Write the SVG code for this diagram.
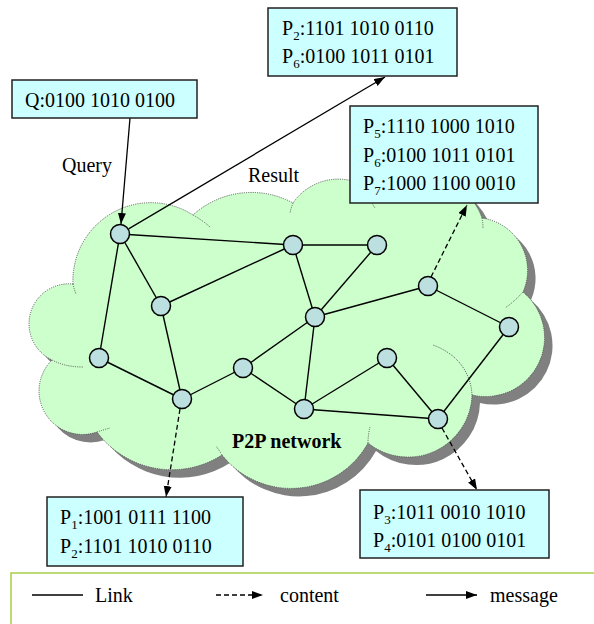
<svg xmlns="http://www.w3.org/2000/svg" width="594" height="624" viewBox="0 0 594 624">
  <style>
    text { font-family: "Liberation Serif", "Times New Roman", serif; font-size: 20px; fill: #000; }
    .sub { font-size: 13px; }
    .box { fill: #CCFFFF; stroke: #222; stroke-width: 1.5; }
    .node { fill: #BCDFE0; stroke: #000; stroke-width: 1.5; }
    .link { stroke: #000; stroke-width: 1.4; fill: none; }
    .msg { stroke: #000; stroke-width: 1.3; fill: none; }
    .content { stroke: #000; stroke-width: 1.3; stroke-dasharray: 5 3; fill: none; }
    .cloud-edge { fill: none; stroke: #555; stroke-width: 1; stroke-dasharray: 1 1.2; }
  </style>
  <defs>
    <marker id="arrow" markerUnits="userSpaceOnUse" markerWidth="12" markerHeight="10" refX="11" refY="4" orient="auto">
      <path d="M0,0 L11,4 L0,8 Z" fill="#000"/>
    </marker>
    <path id="cloudShape" d="M73,284 A78 78 0 0 1 193,215 A87 87 0 0 1 293,203 A55 55 0 0 1 378,196 A62 62 0 0 1 482,218 A53 53 0 0 1 523,292 A59 59 0 0 1 472,395 A64 64 0 0 1 368,443 A88 88 0 0 1 222,455 A93 93 0 0 1 97,432 A43.5 43.5 0 0 1 52,360 A40 40 0 0 1 73,284 Z"/>
  </defs>

  <rect width="594" height="624" fill="#fff"/>

  <!-- network cloud with drop shadow -->
  <g id="cloud">
    <use href="#cloudShape" transform="translate(8,8)" fill="#808080"/>
    <use href="#cloudShape" fill="#CCFFCC"/>
    <use href="#cloudShape" class="cloud-edge"/>
    <path class="cloud-edge" d="M73,284 Q74,289 76,294 M193,215 Q202,220 210,227 M293,203 Q291,208 290,213 M372,203 Q373,205 375,208 M482,218 Q483,223 483,229 M523,292 Q515,301 505,308 M472,395 C471,375 460,355 433,345 M368,443 Q368,435 370,427 M222,455 Q219,450 216,446 M97,432 Q103,430 110,428 M52,360 Q65,367 83,367"/>
    <text x="232" y="448" font-weight="bold">P2P network</text>
  </g>

  <!-- links between peers, and messages/content transfers -->
  <g id="connectors">
    <g class="link">
      <line x1="120" y1="234" x2="293" y2="245"/>
      <line x1="120" y1="234" x2="161" y2="306"/>
      <line x1="120" y1="234" x2="99" y2="358"/>
      <line x1="161" y1="306" x2="293" y2="245"/>
      <line x1="161" y1="306" x2="182" y2="399"/>
      <line x1="99" y1="358" x2="182" y2="399"/>
      <line x1="182" y1="399" x2="243" y2="368"/>
      <line x1="243" y1="368" x2="315" y2="317"/>
      <line x1="243" y1="368" x2="304" y2="409"/>
      <line x1="293" y1="245" x2="315" y2="317"/>
      <line x1="293" y1="245" x2="377" y2="245"/>
      <line x1="377" y1="245" x2="315" y2="317"/>
      <line x1="315" y1="317" x2="428" y2="286"/>
      <line x1="428" y1="286" x2="509" y2="327"/>
      <line x1="315" y1="317" x2="304" y2="409"/>
      <line x1="304" y1="409" x2="387" y2="358"/>
      <line x1="304" y1="409" x2="438" y2="419"/>
      <line x1="387" y1="358" x2="438" y2="419"/>
      <line x1="438" y1="419" x2="509" y2="327"/>
    </g>
    <line class="msg" x1="130" y1="118" x2="121" y2="224" marker-end="url(#arrow)"/>
    <line class="msg" x1="128.6" y1="228.9" x2="385" y2="77" marker-end="url(#arrow)"/>
    <line class="content" x1="180" y1="409" x2="166" y2="497" marker-end="url(#arrow)"/>
    <line class="content" x1="442" y1="428" x2="477" y2="490" marker-end="url(#arrow)"/>
    <line class="content" x1="431" y1="277" x2="467" y2="205" marker-end="url(#arrow)"/>
  </g>

  <!-- peers -->
  <g id="peers">
    <circle id="peer-q" class="node" cx="120" cy="234" r="9.5"/>
    <circle id="peer-b" class="node" cx="293" cy="245" r="9.5"/>
    <circle id="peer-c" class="node" cx="377" cy="245" r="9.5"/>
    <circle id="peer-d" class="node" cx="161" cy="306" r="9.5"/>
    <circle id="peer-e" class="node" cx="315" cy="317" r="9.5"/>
    <circle id="peer-f" class="node" cx="428" cy="286" r="9.5"/>
    <circle id="peer-g" class="node" cx="509" cy="327" r="9.5"/>
    <circle id="peer-h" class="node" cx="99" cy="358" r="9.5"/>
    <circle id="peer-i" class="node" cx="243" cy="368" r="9.5"/>
    <circle id="peer-j" class="node" cx="387" cy="358" r="9.5"/>
    <circle id="peer-k" class="node" cx="182" cy="399" r="9.5"/>
    <circle id="peer-l" class="node" cx="304" cy="409" r="9.5"/>
    <circle id="peer-m" class="node" cx="438" cy="419" r="9.5"/>
  </g>

  <!-- labels on the message arrows -->
  <text x="62" y="172">Query</text>
  <text x="248" y="182">Result</text>

  <!-- query vector -->
  <g id="query-box">
    <rect class="box" x="12" y="80" width="185" height="38"/>
    <text x="25" y="107">Q:0100 1010 0100</text>
  </g>

  <!-- result set -->
  <g id="result-box">
    <rect class="box" x="268" y="8" width="189" height="68"/>
    <text x="282" y="35">P<tspan class="sub" dy="5">2</tspan><tspan dy="-5">:1101 1010 0110</tspan></text>
    <text x="282" y="63">P<tspan class="sub" dy="5">6</tspan><tspan dy="-5">:0100 1011 0101</tspan></text>
  </g>

  <!-- content held by the right-hand peer -->
  <g id="content-box-567">
    <rect class="box" x="350" y="106" width="188" height="97"/>
    <text x="363" y="133">P<tspan class="sub" dy="5">5</tspan><tspan dy="-5">:1110 1000 1010</tspan></text>
    <text x="363" y="162">P<tspan class="sub" dy="5">6</tspan><tspan dy="-5">:0100 1011 0101</tspan></text>
    <text x="363" y="190">P<tspan class="sub" dy="5">7</tspan><tspan dy="-5">:1000 1100 0010</tspan></text>
  </g>

  <!-- content held by the lower-left peer -->
  <g id="content-box-12">
    <rect class="box" x="47" y="497" width="196" height="69"/>
    <text x="60" y="524">P<tspan class="sub" dy="5">1</tspan><tspan dy="-5">:1001 0111 1100</tspan></text>
    <text x="60" y="553">P<tspan class="sub" dy="5">2</tspan><tspan dy="-5">:1101 1010 0110</tspan></text>
  </g>

  <!-- content held by the lower-right peer -->
  <g id="content-box-34">
    <rect class="box" x="360" y="490" width="189" height="68"/>
    <text x="373" y="519">P<tspan class="sub" dy="5">3</tspan><tspan dy="-5">:1011 0010 1010</tspan></text>
    <text x="373" y="547">P<tspan class="sub" dy="5">4</tspan><tspan dy="-5">:0101 0100 0101</tspan></text>
  </g>

  <!-- legend -->
  <g id="legend">
    <rect x="11" y="573" width="600" height="70" fill="#fff" stroke="#A6D048" stroke-width="1.5"/>
    <line class="link" x1="32" y1="595" x2="83" y2="595"/>
    <text x="95" y="602">Link</text>
    <line class="content" x1="216" y1="595" x2="263" y2="595" marker-end="url(#arrow)"/>
    <text x="280" y="602">content</text>
    <line class="msg" x1="426" y1="595" x2="477" y2="595" marker-end="url(#arrow)"/>
    <text x="490" y="602">message</text>
  </g>
</svg>
